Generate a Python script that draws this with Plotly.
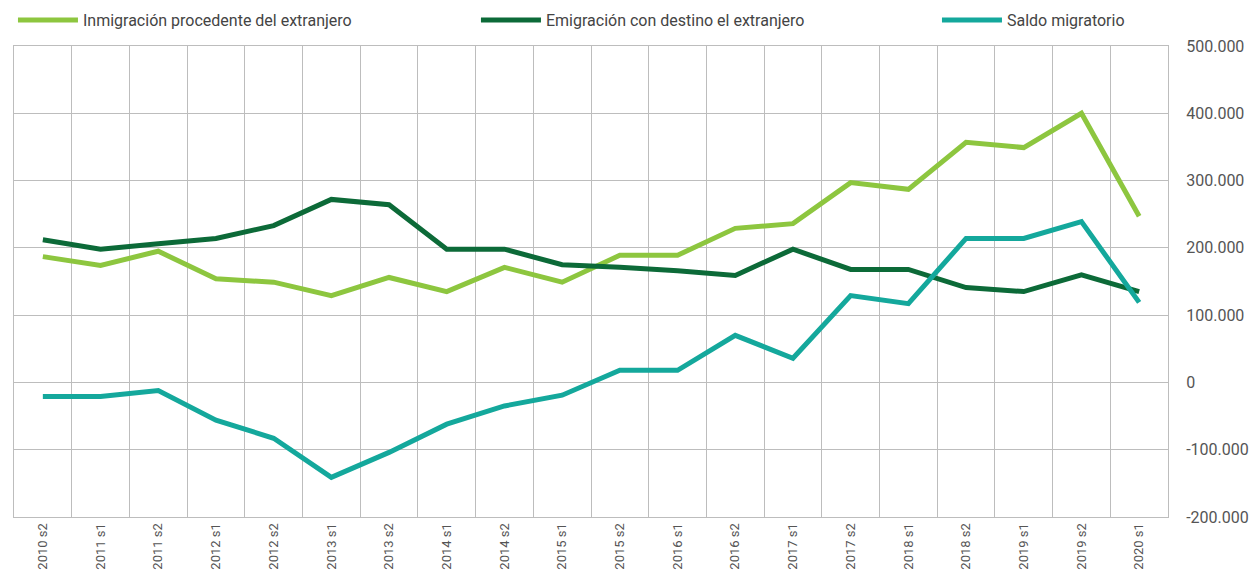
import plotly.graph_objects as go

categories = ["2010 s2", "2011 s1", "2011 s2", "2012 s1", "2012 s2", "2013 s1", "2013 s2",
              "2014 s1", "2014 s2", "2015 s1", "2015 s2", "2016 s1", "2016 s2", "2017 s1",
              "2017 s2", "2018 s1", "2018 s2", "2019 s1", "2019 s2", "2020 s1"]

inmigracion = [187000, 174000, 195000, 154000, 149000, 129000, 156000, 135000, 171000, 149000,
               189000, 189000, 229000, 236000, 297000, 287000, 357000, 349000, 400000, 247000]

emigracion = [212000, 198000, 206000, 214000, 233000, 272000, 264000, 198000, 198000, 175000,
              171000, 166000, 159000, 198000, 168000, 168000, 141000, 135000, 160000, 135000]

saldo = [-21000, -21000, -12000, -56000, -83000, -141000, -104000, -62000, -35000, -19000,
         18000, 18000, 70000, 36000, 129000, 117000, 214000, 214000, 239000, 119000]

y_tickvals = [500000, 400000, 300000, 200000, 100000, 0, -100000, -200000]
y_ticktext = ["500.000", "400.000", "300.000", "200.000", "100.000", "0", "-100.000", "-200.000"]

series_names = ["Inmigración procedente del extranjero", "Emigración con destino el extranjero", "Saldo migratorio"]
colors = ["#8DC63F", "#0C6A38", "#14A89C"]
legend_ids = ["legend", "legend2", "legend3"]

fig = go.Figure()
for name, vals, col, lg in zip(series_names, [inmigracion, emigracion, saldo], colors, legend_ids):
    fig.add_trace(go.Scatter(x=categories, y=vals, name=name, mode="lines",
                             line=dict(color=col, width=5), legend=lg))

legend_style = dict(orientation="h", y=1.055, xanchor="left", yanchor="middle",
                    itemwidth=60, font=dict(size=16, color="#444444"),
                    bgcolor="rgba(0,0,0,0)")

grid = "#BDBDBD"
fig.update_layout(
    width=1255, height=572,
    margin=dict(l=14, r=87, t=46, b=55, autoexpand=False),
    paper_bgcolor="white", plot_bgcolor="white",
    font=dict(family="Roboto, sans-serif", color="#555555"),
    showlegend=True,
    legend=dict(x=-0.0009, **legend_style),
    legend2=dict(x=0.4003, **legend_style),
    legend3=dict(x=0.7998, **legend_style),
    xaxis=dict(type="category", range=[-0.5, 19.5], tickson="boundaries", automargin=False,
               showgrid=True, gridcolor=grid, gridwidth=1,
               showline=True, linecolor=grid, linewidth=1, mirror=True,
               ticks="", tickangle=-90, tickfont=dict(size=13, color="#555555"),
               zeroline=False),
    yaxis=dict(side="right", range=[-200000, 500000], tickvals=y_tickvals, ticktext=y_ticktext,
               automargin=False,
               showgrid=True, gridcolor=grid, gridwidth=1,
               showline=True, linecolor=grid, linewidth=1, mirror=True,
               ticks="", ticklabelstandoff=14, tickfont=dict(size=16, color="#555555"),
               zeroline=False),
)

fig.write_html("out.html", config={"displayModeBar": False},
               post_script="document.body.style.margin='0px';document.body.style.overflow='hidden';")
